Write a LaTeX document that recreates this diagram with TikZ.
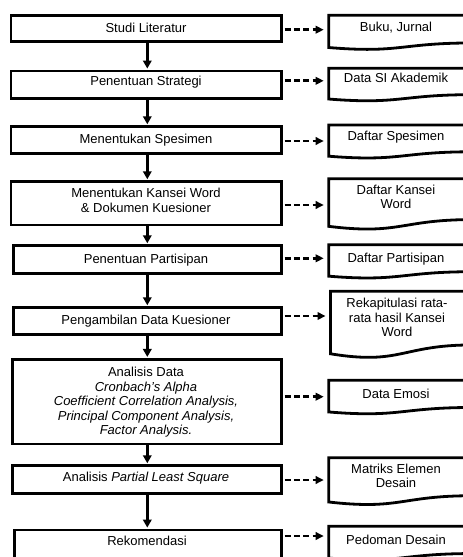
\documentclass[tikz,border=0pt]{standalone}
\usepackage{fontspec}
\setmainfont{Liberation Sans}
\usetikzlibrary{arrows.meta}
\newcommand{\ml}[1]{\begin{tabular}[t]{@{}c@{}}#1\end{tabular}}
% name, left, top, h  (document shape, right side runs off the picture)
\newcommand{\docshape}[4]{%
  \coordinate (#1) at (#2,#3);
  \draw[docline] (472,#3) -- (#1) -- (#2,{#3+0.934*#4})
    .. controls ({(#2+472)/2},{#3+1.107*#4}) and ({(#2+472)/2},{#3+0.802*#4}) ..
    (472,{#3+0.802*#4}) -- cycle;
}
\tikzset{
  box/.style={draw=black, line width=2.8pt, rectangle, inner sep=0pt},
  docline/.style={draw=black, line width=2.8pt, line join=miter},
  txt/.style={anchor=base, inner sep=0pt, text=black},
  varrow/.style={line width=2.6pt, -{Triangle[length=8pt,width=8.5pt]}, shorten >=1pt},
  darrow/.style={line width=2.7pt, dash pattern=on 6pt off 3.4pt, -{Triangle[length=8pt,width=7.5pt]}, shorten <=1.3pt, shorten >=5pt}
}
\begin{document}
\begin{tikzpicture}[x=1pt, y=-1pt, font=\fontsize{13}{14.5}\selectfont]
\path[use as bounding box, clip] (0,0) rectangle (463,557);
\fill[white] (0,0) rectangle (463,557);

% process boxes (border centres)
\node[box, minimum width=270.8pt, minimum height=25.6pt] (b1) at (146.4,28.5) {};
\node[box, minimum width=270.8pt, minimum height=27.7pt] (b2) at (146.4,84.8) {};
\node[box, minimum width=270.8pt, minimum height=26.7pt] (b3) at (146.4,140) {};
\node[box, minimum width=270.8pt, minimum height=43.3pt] (b4) at (146.4,203.3) {};
\node[box, minimum width=268.5pt, minimum height=27.7pt] (b5) at (147.55,259.5) {};
\node[box, minimum width=268.5pt, minimum height=26.7pt] (b6) at (147.55,321) {};
\node[box, minimum width=269.1pt, minimum height=84.7pt] (b7) at (147.25,401.7) {};
\node[box, minimum width=269.1pt, minimum height=27.7pt] (b8) at (147.25,479.5) {};
\node[box, minimum width=267.5pt, minimum height=29pt] (b9) at (148.05,544.5) {};

% box texts
\node[txt] (t1) at (146,32.3) {Studi Literatur};
\node[txt] (t2) at (146,85.4) {Penentuan Strategi};
\node[txt] (t3) at (146,143.5) {Menentukan Spesimen};
\node[txt] (t4) at (146,197.6) {\ml{Menentukan Kansei Word\\\& Dokumen Kuesioner}};
\node[txt] (t5) at (146,263.3) {Penentuan Partisipan};
\node[txt] (t6) at (146,324.3) {Pengambilan Data Kuesioner};
\node[txt] (t7) at (146,376.6) {\ml{Analisis Data\\\textit{Cronbach’s Alpha}\\\textit{Coefficient Correlation Analysis,}\\\textit{Principal Component Analysis,}\\\textit{Factor Analysis.}}};
\node[txt] (t8) at (146,481.6) {Analisis \textit{Partial Least Square}};
\node[txt] (t9) at (147,545) {Rekomendasi};

% document shapes
\docshape{d1}{328.7}{15.3}{34.5}
\docshape{d2}{328.7}{68.3}{32.9}
\docshape{d3}{328.7}{125}{33.4}
\docshape{d4}{328.7}{178.7}{51}
\docshape{d5}{328.7}{244.7}{33.7}
\docshape{d6}{330.5}{291.3}{66.9}
\docshape{d7}{328.7}{380.3}{33.9}
\docshape{d8}{328.7}{457.8}{47.3}
\docshape{d9}{328.7}{526.3}{34}

% document texts
\node[txt] (e1) at (396,31) {Buku, Jurnal};
\node[txt] (e2) at (396,82.6) {Data SI Akademik};
\node[txt] (e3) at (396,140.3) {Daftar Spesimen};
\node[txt] (e4) at (396,194.3) {\ml{Daftar Kansei\\Word}};
\node[txt] (e5) at (396,262) {Daftar Partisipan};
\node[txt] (e6) at (397,307.6) {\ml{Rekapitulasi rata-\\rata hasil Kansei\\Word}};
\node[txt] (e7) at (396,398.6) {Data Emosi};
\node[txt] (e8) at (396,473.3) {\ml{Matriks Elemen\\Desain}};
\node[txt] (e9) at (396,544.3) {Pedoman Desain};

% vertical flow arrows
\coordinate (ax) at (147.3,0);
\draw[varrow] (b1.south -| ax) -- (b2.north -| ax);
\draw[varrow] (b2.south -| ax) -- (b3.north -| ax);
\draw[varrow] (b3.south -| ax) -- (b4.north -| ax);
\draw[varrow] (b4.south -| ax) -- (b5.north -| ax);
\draw[varrow] (b5.south -| ax) -- (b6.north -| ax);
\draw[varrow] (b6.south -| ax) -- (b7.north -| ax);
\draw[varrow] (b7.south -| ax) -- (b8.north -| ax);
\draw[varrow] (b8.south -| ax) -- (b9.north -| ax);

% dashed output arrows
\coordinate (a1) at (0,29.7);
\coordinate (a2) at (0,80.8);
\coordinate (a3) at (0,141);
\coordinate (a4) at (0,205);
\coordinate (a5) at (0,258.3);
\coordinate (a6) at (0,316);
\coordinate (a7) at (0,396.7);
\coordinate (a8) at (0,480);
\coordinate (a9) at (0,536);
\draw[darrow] (b1.east |- a1) -- (d1 |- a1);
\draw[darrow] (b2.east |- a2) -- (d2 |- a2);
\draw[darrow] (b3.east |- a3) -- (d3 |- a3);
\draw[darrow] (b4.east |- a4) -- (d4 |- a4);
\draw[darrow] (b5.east |- a5) -- (d5 |- a5);
\draw[darrow] (b6.east |- a6) -- (d6 |- a6);
\draw[darrow] (b7.east |- a7) -- (d7 |- a7);
\draw[darrow] (b8.east |- a8) -- (d8 |- a8);
\draw[darrow] (b9.east |- a9) -- (d9 |- a9);
\end{tikzpicture}
\end{document}
